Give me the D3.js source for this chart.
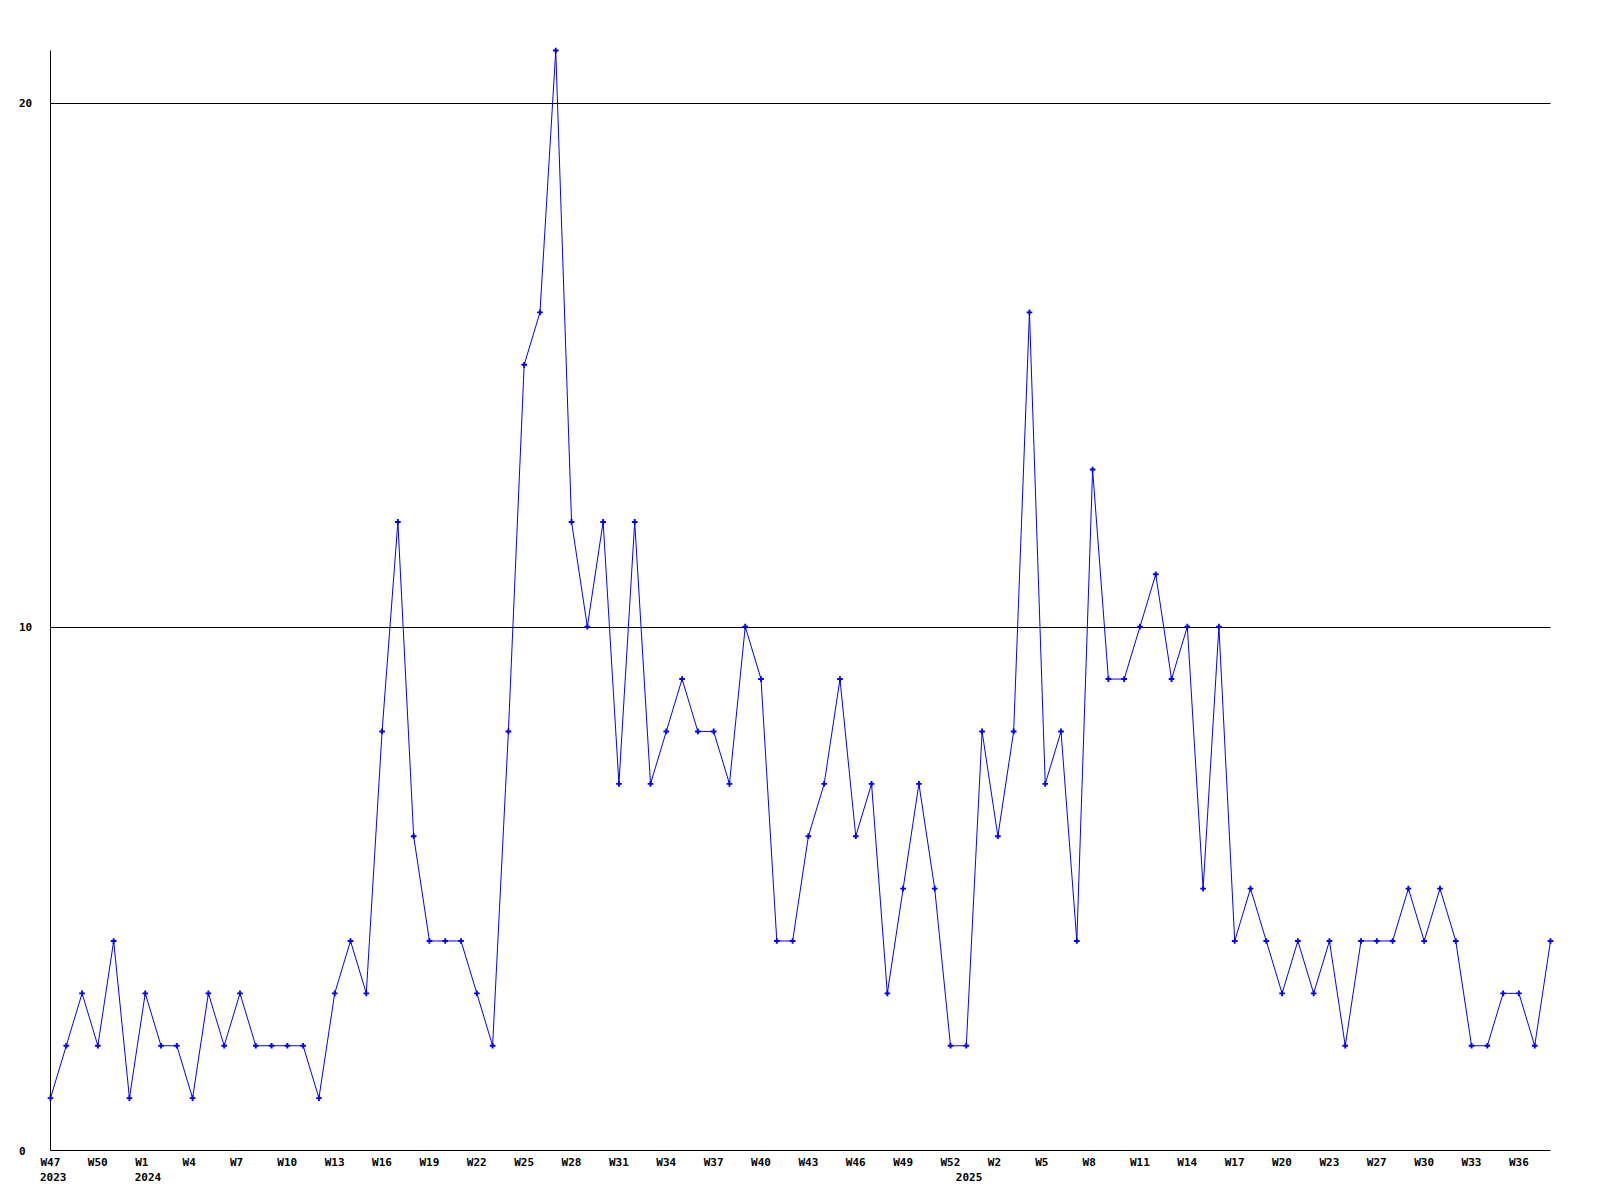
<!DOCTYPE html>
<html>
<head>
<meta charset="utf-8">
<script src="https://cdn.jsdelivr.net/npm/d3@7"></script>
<style>
  html, body { margin: 0; padding: 0; background: #ffffff; }
  svg { display: block; }
  text { font-family: "DejaVu Sans Mono", "Liberation Mono", monospace; font-weight: bold; font-size: 11px; fill: #000; }
</style>
</head>
<body>
<svg id="chart" width="1600" height="1200"></svg>
<script>
// Weekly values (one per week, starting W47 2023)
const values = [
  1, 2, 3, 2, 4, 1, 3, 2, 2, 1,
  3, 2, 3, 2, 2, 2, 2, 1, 3, 4,
  3, 8, 12, 6, 4, 4, 4, 3, 2, 8,
  15, 16, 21, 12, 10, 12, 7, 12, 7, 8,
  9, 8, 8, 7, 10, 9, 4, 4, 6, 7,
  9, 6, 7, 3, 5, 7, 5, 2, 2, 8,
  6, 8, 16, 7, 8, 4, 13, 9, 9, 10,
  11, 9, 10, 5, 10, 4, 5, 4, 3, 4,
  3, 4, 2, 4, 4, 4, 5, 4, 5, 4,
  2, 2, 3, 3, 2, 4
];

// Week tick labels and the point index they sit on
const tickIndex = [0, 3, 6, 9, 12, 15, 18, 21, 24, 27, 30, 33, 36, 39, 42, 45, 48, 51, 54, 57,
                   60, 63, 66, 69, 72, 75, 78, 81, 84, 87, 90, 93];
const tickLabels = ["W47", "W50", "W1", "W4", "W7", "W10", "W13", "W16", "W19", "W22", "W25",
                    "W28", "W31", "W34", "W37", "W40", "W43", "W46", "W49", "W52",
                    "W2", "W5", "W8", "W11", "W14", "W17", "W20", "W23", "W27", "W30", "W33", "W36"];

// Year labels and the point index they sit on
const yearIndex = [0, 6, 58];
const yearLabels = ["2023", "2024", "2025"];

// Y axis ticks
const yTicks = [0, 10, 20];

const svg = d3.select("#chart");
const mLeft = 50.5, mRight = 1550.5, mTop = 50.5, mBottom = 1150.5;

const x = d3.scaleLinear().domain([0, values.length - 1]).range([mLeft, mRight]);
const y = d3.scaleLinear().domain([0, 21]).range([mBottom, mTop]);

// Gridlines
svg.append("g")
  .selectAll("line")
  .data(yTicks.filter(t => t > 0))
  .join("line")
  .attr("x1", mLeft).attr("x2", mRight)
  .attr("y1", d => Math.round(y(d)) + 0.5).attr("y2", d => Math.round(y(d)) + 0.5)
  .attr("stroke", "#000").attr("stroke-width", 1);

// X axis
const labelMap = new Map(tickIndex.map((t, i) => [t, tickLabels[i]]));
const xAxis = svg.append("g")
  .attr("transform", `translate(0,${mBottom})`)
  .call(d3.axisBottom(x).tickValues(tickIndex).tickFormat(d => labelMap.get(d)).tickSize(0).tickPadding(0));
xAxis.select(".domain").attr("d", `M${mLeft},0H${mRight}`).attr("stroke", "#000");
xAxis.selectAll("text")
  .attr("text-anchor", "start")
  .attr("x", -10.5)
  .attr("y", 15)
  .attr("dy", 0)
  .style("font-family", '"DejaVu Sans Mono", monospace')
  .style("font-weight", "bold")
  .style("font-size", "11px");

// Year labels
svg.append("g")
  .selectAll("text")
  .data(yearIndex)
  .join("text")
  .attr("x", d => x(d) - 10.5)
  .attr("y", mBottom + 30.5)
  .attr("text-anchor", "start")
  .text((d, i) => yearLabels[i]);

// Y axis
const yAxis = svg.append("g")
  .attr("transform", `translate(${mLeft},0)`)
  .call(d3.axisLeft(y).tickValues(yTicks).tickFormat(d3.format("d")).tickSize(0).tickPadding(0));
yAxis.select(".domain").attr("d", `M0,${mTop}V${mBottom}`).attr("stroke", "#000");
yAxis.selectAll("text")
  .attr("text-anchor", "start")
  .attr("x", 19 - mLeft)
  .attr("dy", "0.35em")
  .style("font-family", '"DejaVu Sans Mono", monospace')
  .style("font-weight", "bold")
  .style("font-size", "11px");

// Line
const line = d3.line().x((d, i) => x(i)).y(d => y(d));
svg.append("path")
  .datum(values)
  .attr("d", line)
  .attr("fill", "none")
  .attr("stroke", "#0000ff")
  .attr("stroke-width", 1);

// Markers
svg.append("g")
  .selectAll("path")
  .data(values)
  .join("path")
  .attr("transform", (d, i) => `translate(${x(i)},${y(d)})`)
  .attr("d", d3.symbol(d3.symbolCross, 18))
  .attr("fill", "#0000ff");
</script>
</body>
</html>
